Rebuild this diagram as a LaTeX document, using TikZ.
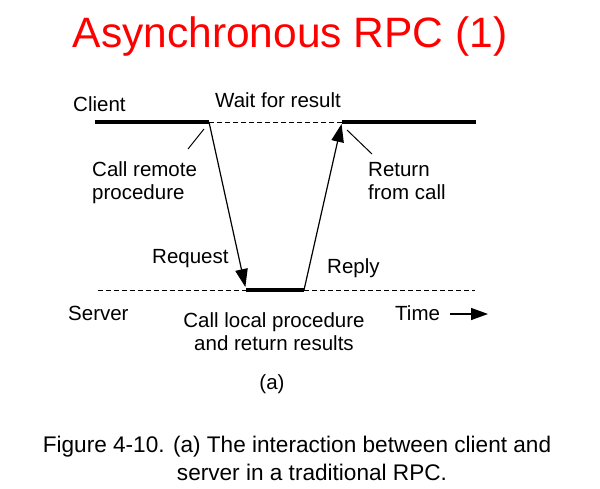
\documentclass[tikz,border=0pt]{standalone}
\usepackage{fontspec}
\setmainfont{Liberation Sans}
\usetikzlibrary{arrows.meta}
\begin{document}
\begin{tikzpicture}[x=1pt,y=-1pt,
  lbl/.style={font=\fontsize{20.5}{22.5}\selectfont, inner sep=0pt},
  thickline/.style={line width=4pt},
  dashline/.style={line width=1pt, dash pattern=on 5pt off 3pt},
  msg/.style={line width=1.2pt, -{Triangle[length=18pt,width=12.5pt]}},
  pointer/.style={line width=1pt}]
\useasboundingbox (0,0) rectangle (600,488);
\fill[white] (0,0) rectangle (600,488);
% title
\node[anchor=base, inner sep=0pt, text=red, font=\fontsize{42.5}{50}\selectfont] (title) at (290,47) {Asynchronous RPC (1)};
% time lines
\coordinate (c0) at (95,122);
\coordinate (c1) at (209,122);
\coordinate (c2) at (342,122);
\coordinate (c3) at (476,122);
\coordinate (s0) at (98,290);
\coordinate (s1) at (246,290);
\coordinate (s2) at (304,290);
\coordinate (s3) at (475,290);
\draw[dashline] (c1) -- (c2);
\draw[dashline] (s0) -- (s1);
\draw[dashline] (s2) -- (s3);
\draw[thickline] (c0) -- (c1);
\draw[thickline] (c2) -- (c3);
\draw[thickline] (s1) -- (s2);
\draw[msg, shorten >=3pt] (c1) -- (s1);
\draw[msg, shorten >=2pt] (s2) -- (c2);
% labels
\node[lbl, anchor=base west] (client) at (73,111) {Client};
\node[lbl, anchor=base west] (wait) at (215,107) {Wait for result};
\node[lbl, anchor=base west, align=left] (crp) at (92,199) {Call remote\\procedure};
\node[lbl, anchor=base west, align=left] (rfc) at (368,199) {Return\\from call};
\node[lbl, anchor=base west] (req) at (152,263) {Request};
\node[lbl, anchor=base west] (rep) at (327,273) {Reply};
\node[lbl, anchor=base west] (server) at (68,320) {Server};
\node[lbl, anchor=base, align=center, font=\fontsize{20.5}{23}\selectfont] (clp) at (274,350) {Call local procedure\\and return results};
\node[lbl, anchor=base west] (time) at (395,320) {Time};
\node[lbl, anchor=base] (sub) at (272,389) {(a)};
% pointers
\coordinate (p1a) at (204,129);
\coordinate (p1b) at (188,149);
\coordinate (p2a) at (347,130);
\coordinate (p2b) at (372,154);
\draw[pointer] (p1a) -- (p1b);
\draw[pointer] (p2a) -- (p2b);
% time arrow
\coordinate (t0) at (450,314);
\coordinate (t1) at (488,314);
\draw[line width=1.5pt, -{Triangle[length=17pt,width=12pt]}] (t0) -- (t1);
% caption
\node[anchor=base, inner sep=0pt, font=\fontsize{22.6}{28}\selectfont] (cap1) at (297,452) {Figure 4-10. (a) The interaction between client and};
\node[anchor=base, inner sep=0pt, font=\fontsize{22.6}{28}\selectfont] (cap2) at (312,480) {server in a traditional RPC.};
\end{tikzpicture}
\end{document}
